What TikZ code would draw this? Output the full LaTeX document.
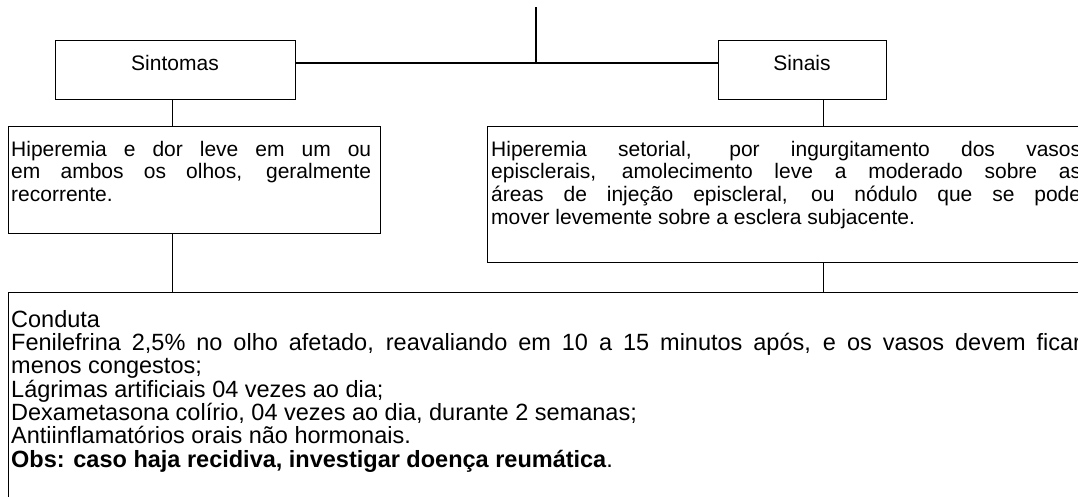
\documentclass[tikz,border=0pt]{standalone}
\usepackage{fontspec}
\setmainfont{Liberation Sans}
\newcommand\fs{\fontsize{21}{22.6}\selectfont\hyphenpenalty=10000\tolerance=10000\emergencystretch=50pt}
\newcommand\fb{\fontsize{23.5}{23.3}\selectfont\hyphenpenalty=10000\tolerance=10000\emergencystretch=50pt}
\newcommand\fl[1]{\rule{0pt}{#1pt}}
\tikzset{
  box/.style={draw=black, line width=1.4pt, rectangle, inner sep=0pt, anchor=north west},
  txt/.style={anchor=north west, inner sep=0pt, align=justify, font=\fs},
  lbl/.style={inner sep=0pt, font=\fs},
  conn/.style={draw=black, line width=1.4pt},
}
\begin{document}
\begin{tikzpicture}[x=1pt, y=-1pt]
\useasboundingbox (0,0) rectangle (1078,496);
\clip (0,0) rectangle (1078,496);
\fill[white] (0,0) rectangle (1078,496);
% boxes
\node[box, minimum width=240pt, minimum height=59pt] (sint) at (55,40) {};
\node[lbl] (sintT) at (175,63) {Sintomas};
\node[box, minimum width=168pt, minimum height=59pt] (sin) at (718,40) {};
\node[lbl] (sinT) at (802,63) {Sinais};
\node[box, minimum width=372pt, minimum height=107pt] (lbox) at (8,126) {};
\node[txt, text width=360pt] (lboxT) at (11,126) {\fl{30}Hiperemia e dor leve em um ou\linebreak em ambos os olhos, geralmente\linebreak recorrente.};
\node[box, minimum width=597pt, minimum height=136pt] (rbox) at (487,126) {};
\node[txt, text width=590pt] (rboxT) at (491,126) {\fl{30}Hiperemia setorial, por ingurgitamento dos vasos\linebreak episclerais, amolecimento leve a moderado sobre as\linebreak áreas de injeção episcleral, ou nódulo que se pode\linebreak mover levemente sobre a esclera subjacente.};
\node[box, minimum width=1076pt, minimum height=220pt] (bbox) at (8,292) {};
\node[txt, font=\fb, text width=1070pt] (bboxT) at (11,292) {\fl{35}Conduta\newline
Fenilefrina 2,5\% no olho afetado, reavaliando em 10 a 15 minutos após, e os vasos devem ficar\linebreak menos congestos;\newline
Lágrimas artificiais 04 vezes ao dia;\newline
Dexametasona colírio, 04 vezes ao dia, durante 2 semanas;\newline
Antiinflamatórios orais não hormonais.\newline
\textbf{Obs: caso haja recidiva, investigar doença reumática}.};
% connectors
\coordinate (top) at (536,7);
\coordinate (j) at (536,63);
\coordinate (c1) at ([xshift=-3pt]sint.south);
\coordinate (c2) at ([xshift=21pt]sin.south);
\draw[conn] (top) -- (j);
\draw[conn] (sint.east |- j) -- (sin.west |- j);
\draw[conn] (c1) -- (c1 |- lbox.north);
\draw[conn] (lbox.south -| c1) -- (bbox.north -| c1);
\draw[conn] (c2) -- (c2 |- rbox.north);
\draw[conn] (rbox.south -| c2) -- (bbox.north -| c2);
\end{tikzpicture}
\end{document}
